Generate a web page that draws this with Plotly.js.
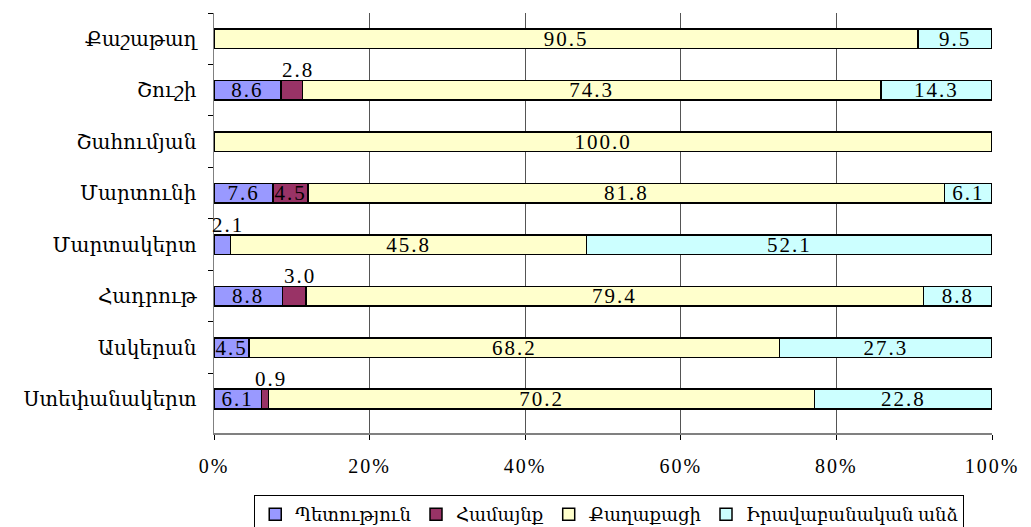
<!DOCTYPE html>
<html>
<head>
<meta charset="utf-8">
<script src="https://cdn.plot.ly/plotly-3.0.1.min.js"></script>
<style>
html,body{margin:0;padding:0;background:#fff;}
#chart{width:1031px;height:527px;}
#chart .xtick text, #chart .bartext, #chart .annotation-text{letter-spacing:2px;}
</style>
</head>
<body>
<div id="chart"></div>
<script>
// Categories top to bottom
const regions = ["Քաշաթաղ","Շուշի","Շահումյան","Մարտունի","Մարտակերտ","Հադրութ","Ասկերան","Ստեփանակերտ"];
const seriesNames = ["Պետություն","Համայնք","Քաղաքացի","Իրավաբանական անձ"];
const state      = [0,   8.6, 0,   7.6, 2.1,  8.8, 4.5,  6.1];
const community  = [0,   2.8, 0,   4.5, 0,    3.0, 0,    0.9];
const citizen    = [90.5,74.3,100.0,81.8,45.8,79.4,68.2,70.2];
const legalEntity= [9.5, 14.3,0,   6.1, 52.1, 8.8, 27.3, 22.8];
const tickLabels = ['0%','20%','40%','60%','80%','100%'];
const tickValues = [0,20,40,60,80,100];
const colors = ["#9999FF","#993366","#FFFFCC","#CCFFFF"];
// labels shown above the bar (too small to fit inside)
const aboveState     = [false,false,false,false,true,false,false,false];
const aboveCommunity = [false,true,false,false,false,true,false,true];

const FONT = "'Liberation Serif', 'DejaVu Serif', serif";
const all = [state, community, citizen, legalEntity];
const aboveFlags = [aboveState, aboveCommunity, null, null];

const traces = all.map((vals, si) => ({
  type: 'bar',
  orientation: 'h',
  name: seriesNames[si],
  y: regions,
  x: vals,
  marker: {color: colors[si], line: {color: '#000', width: 1.5}},
  text: vals.map((v, i) => (v > 0 && !(aboveFlags[si] && aboveFlags[si][i])) ? v.toFixed(1) : ''),
  textposition: 'inside',
  insidetextanchor: 'middle',
  textangle: 0,
  textfont: {family: FONT, size: 21, color: '#000'},
  constraintext: 'none',
  cliponaxis: false,
  hoverinfo: 'none'
}));

const annotations = [];
all.forEach((vals, si) => {
  if (!aboveFlags[si]) return;
  vals.forEach((v, i) => {
    if (aboveFlags[si][i]) {
      let start = 0;
      for (let k = 0; k < si; k++) start += all[k][i];
      annotations.push({
        x: start + v / 2, y: regions[i], xref: 'x', yref: 'y',
        text: v.toFixed(1), showarrow: false, yshift: 20, xshift: 6,
        font: {family: FONT, size: 21, color: '#000'}
      });
    }
  });
});

const layout = {
  width: 1031, height: 527,
  margin: {l: 214, r: 39, t: 13, b: 94, autoexpand: false},
  paper_bgcolor: '#fff', plot_bgcolor: '#fff',
  barmode: 'stack',
  bargap: 0.62,
  font: {family: FONT, size: 20, color: '#000'},
  showlegend: true,
  legend: {
    orientation: 'h', x: 0.508, xanchor: 'center', y: -0.148, yanchor: 'top',
    bordercolor: '#000', borderwidth: 1, font: {family: FONT, size: 18, color: '#000'},
    itemwidth: 30, tracegroupgap: 0, traceorder: 'normal'
  },
  xaxis: {
    range: [0, 100], tickvals: tickValues, ticktext: tickLabels,
    showgrid: true, gridcolor: '#555', gridwidth: 1,
    showline: true, linecolor: '#808080', linewidth: 1.5,
    ticks: 'outside', ticklen: 5, tickcolor: '#000', ticklabelstandoff: 9,
    zeroline: false, fixedrange: true, automargin: false
  },
  yaxis: {
    autorange: 'reversed', type: 'category',
    showline: true, linecolor: '#808080', linewidth: 1.5,
    ticks: 'outside', ticklen: 5, tickcolor: '#000', tickson: 'boundaries',
    ticklabelstandoff: 12, showgrid: false, fixedrange: true, automargin: false
  },
  annotations: annotations
};

Plotly.newPlot('chart', traces, layout, {displayModeBar: false, staticPlot: true});
</script>
</body>
</html>
